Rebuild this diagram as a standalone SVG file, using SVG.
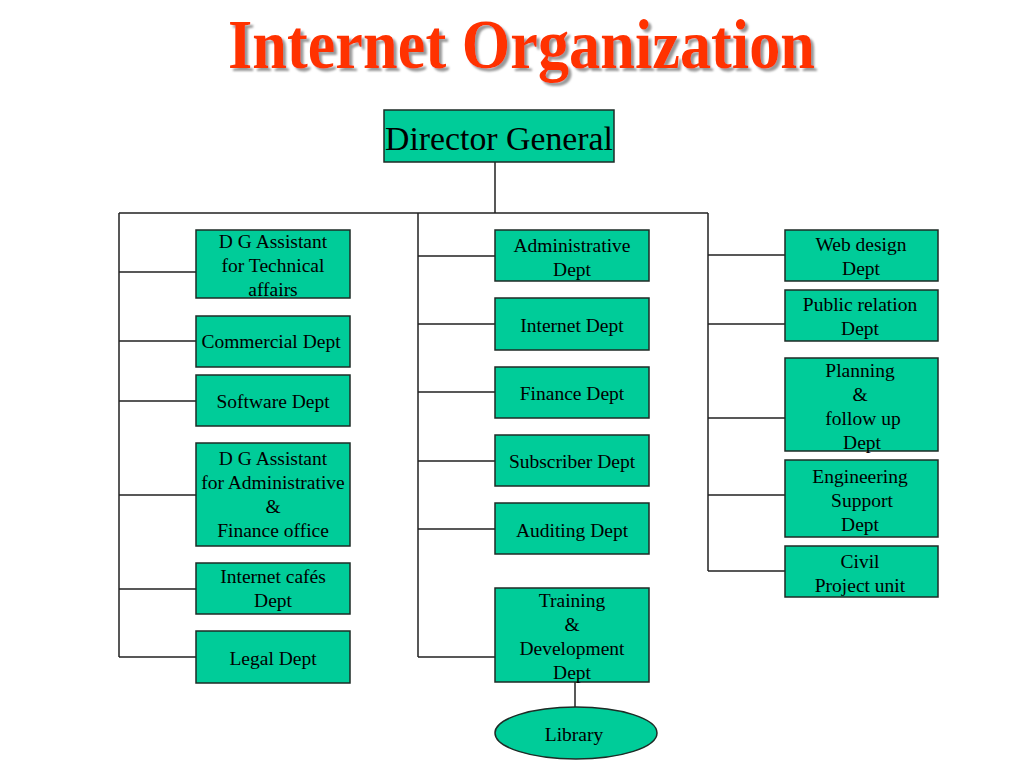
<svg xmlns="http://www.w3.org/2000/svg" width="1024" height="768" viewBox="0 0 1024 768">
<defs>
<filter id="shadow" x="-5%" y="-20%" width="110%" height="150%">
<feDropShadow dx="3" dy="3" stdDeviation="0.8" flood-color="#999999" flood-opacity="1"/>
</filter>
</defs>
<style>
.box{fill:#00CC99;stroke:#1e2b26;stroke-width:1.5}
.t{font-family:"Liberation Serif","Times New Roman",serif;font-size:19.5px;fill:#000;text-anchor:middle}
.ln{fill:none;stroke:#222;stroke-width:1.5}
.title{font-family:"Liberation Serif","Times New Roman",serif;font-weight:bold;font-size:70px;text-anchor:start}
</style>
<rect width="1024" height="768" fill="#fff"/>
<g id="title">
<text class="title" x="228" y="68" fill="#FF3300" filter="url(#shadow)" textLength="587" lengthAdjust="spacingAndGlyphs">Internet Organization</text>
</g>
<g id="connectors" class="ln">
<path d="M495,162 V213 M119,213 H708"/>
<path d="M119,213 V657 M119,272 H196 M119,341 H196 M119,401 H196 M119,495 H196 M119,589 H196 M119,657 H196"/>
<path d="M418,213 V657 M418,256 H495 M418,324 H495 M418,392 H495 M418,461 H495 M418,529 H495 M418,657 H495"/>
<path d="M708,213 V571 M708,255 H785 M708,324 H785 M708,418 H785 M708,495 H785 M708,571 H785"/>
<path d="M575,682 V707"/>
</g>
<g id="director-general">
<rect class="box" x="384" y="110" width="230" height="52"/>
<text class="t" x="499" y="150" style="font-size:34px" textLength="228" lengthAdjust="spacingAndGlyphs">Director General</text>
</g>
<g id="dg-technical">
<rect class="box" x="196" y="230" width="154" height="68"/>
<text class="t" x="273" y="248">D G Assistant</text>
<text class="t" x="273" y="272">for Technical</text>
<text class="t" x="273" y="296">affairs</text>
</g>
<g id="commercial">
<rect class="box" x="196" y="316" width="154" height="51"/>
<text class="t" x="271" y="348">Commercial Dept</text>
</g>
<g id="software">
<rect class="box" x="196" y="375" width="154" height="51"/>
<text class="t" x="273" y="408">Software Dept</text>
</g>
<g id="dg-admin">
<rect class="box" x="196" y="443" width="154" height="103"/>
<text class="t" x="273" y="465">D G Assistant</text>
<text class="t" x="273" y="489">for Administrative</text>
<text class="t" x="273" y="513">&amp;</text>
<text class="t" x="273" y="537">Finance office</text>
</g>
<g id="cafes">
<rect class="box" x="196" y="563" width="154" height="51"/>
<text class="t" x="273" y="583">Internet cafés</text>
<text class="t" x="273" y="607">Dept</text>
</g>
<g id="legal">
<rect class="box" x="196" y="631" width="154" height="52"/>
<text class="t" x="273" y="665">Legal Dept</text>
</g>
<g id="administrative">
<rect class="box" x="495" y="230" width="154" height="51"/>
<text class="t" x="572" y="252">Administrative</text>
<text class="t" x="572" y="276">Dept</text>
</g>
<g id="internet">
<rect class="box" x="495" y="298" width="154" height="52"/>
<text class="t" x="572" y="332">Internet Dept</text>
</g>
<g id="finance">
<rect class="box" x="495" y="367" width="154" height="51"/>
<text class="t" x="572" y="400">Finance Dept</text>
</g>
<g id="subscriber">
<rect class="box" x="495" y="435" width="154" height="51"/>
<text class="t" x="572" y="468">Subscriber Dept</text>
</g>
<g id="auditing">
<rect class="box" x="495" y="503" width="154" height="51"/>
<text class="t" x="572" y="537">Auditing Dept</text>
</g>
<g id="training">
<rect class="box" x="495" y="588" width="154" height="94"/>
<text class="t" x="572" y="607">Training</text>
<text class="t" x="572" y="631">&amp;</text>
<text class="t" x="572" y="655">Development</text>
<text class="t" x="572" y="679">Dept</text>
</g>
<g id="library">
<ellipse class="box" cx="576" cy="733" rx="81" ry="26"/>
<text class="t" x="574" y="741">Library</text>
</g>
<g id="webdesign">
<rect class="box" x="785" y="230" width="153" height="51"/>
<text class="t" x="861" y="251">Web design</text>
<text class="t" x="861" y="275">Dept</text>
</g>
<g id="publicrelation">
<rect class="box" x="785" y="290" width="153" height="51"/>
<text class="t" x="860" y="311">Public relation</text>
<text class="t" x="860" y="335">Dept</text>
</g>
<g id="planning">
<rect class="box" x="785" y="358" width="153" height="93"/>
<text class="t" x="860" y="377">Planning</text>
<text class="t" x="860" y="401">&amp;</text>
<text class="t" x="863" y="425">follow up</text>
<text class="t" x="862" y="449">Dept</text>
</g>
<g id="engineering">
<rect class="box" x="785" y="460" width="153" height="77"/>
<text class="t" x="860" y="483">Engineering</text>
<text class="t" x="862" y="507">Support</text>
<text class="t" x="860" y="531">Dept</text>
</g>
<g id="civil">
<rect class="box" x="785" y="546" width="153" height="51"/>
<text class="t" x="860" y="568">Civil</text>
<text class="t" x="860" y="592">Project unit</text>
</g>
</svg>
